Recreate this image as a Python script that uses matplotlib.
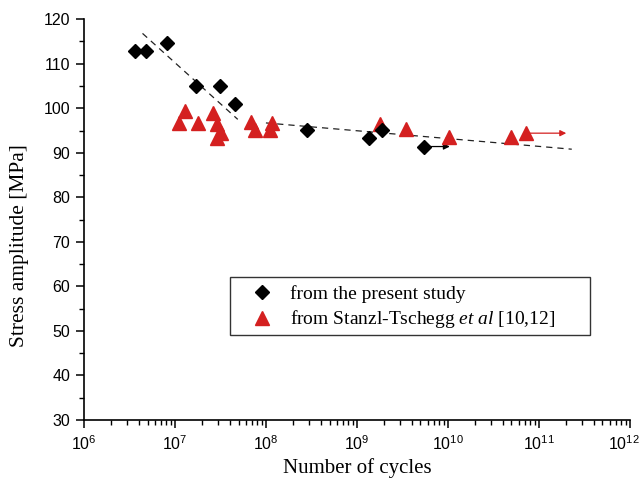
import matplotlib
matplotlib.use("Agg")
import matplotlib.pyplot as plt
import matplotlib.transforms as mtransforms
import numpy as np
from matplotlib.ticker import LogLocator, MultipleLocator, NullFormatter, FixedLocator
from matplotlib.patches import Rectangle

plt.rcParams["font.family"] = ["Liberation Sans"]
plt.rcParams["mathtext.fontset"] = "custom"
plt.rcParams["mathtext.it"] = "Liberation Serif:italic"
plt.rcParams["mathtext.rm"] = "Liberation Sans"

# Present study (black diamonds)
present_N = [3.6e6, 4.8e6, 8.1e6, 1.7e7, 3.1e7, 4.6e7, 2.8e8, 1.35e9, 1.9e9, 5.4e9]
present_S = [112.8, 112.8, 114.7, 105.0, 105.0, 101.0, 95.2, 93.3, 95.2, 91.4]
present_runout_N = [5.4e9, 1.05e10]
present_runout_S = [91.4, 91.4]

# Stanzl-Tschegg et al (red triangles)
st_N = [1.1e7, 1.3e7, 1.8e7, 2.6e7, 2.9e7, 3.2e7, 2.9e7, 6.9e7, 7.6e7, 1.17e8, 1.1e8,
        1.8e9, 3.5e9, 1.02e10, 5.0e10, 7.2e10]
st_S = [96.7, 99.3, 96.7, 99.0, 96.4, 94.4, 93.3, 96.9, 95.1, 96.7, 95.1,
        96.4, 95.3, 93.5, 93.5, 94.4]
st_runout_N = [7.2e10, 2.0e11]
st_runout_S = [94.4, 94.4]

# Fitted dashed lines
fit1_N = [4.4e6, 4.9e7]
fit1_S = [116.8, 97.5]
fit2_N = [1.0e8, 2.3e11]
fit2_S = [96.7, 90.8]

x_ticks = [1e6, 1e7, 1e8, 1e9, 1e10, 1e11, 1e12]

red = "#d42020"

fig = plt.figure(figsize=(6.44, 4.79), dpi=100)
ax = fig.add_axes([0.1304, 0.1232, 0.8476, 0.8368])

ax.plot(fit1_N, fit1_S, ls=(0, (5, 4)), color="#222222", lw=0.9, zorder=1)
ax.plot(fit2_N, fit2_S, ls=(0, (5, 4)), color="#222222", lw=0.9, zorder=1)

ax.annotate("", xy=(present_runout_N[1], present_runout_S[1]),
            xytext=(present_runout_N[0], present_runout_S[0]),
            arrowprops=dict(arrowstyle="-|>", color="black", lw=0.9,
                            mutation_scale=9, shrinkA=0, shrinkB=0), zorder=2)
ax.annotate("", xy=(st_runout_N[1], st_runout_S[1]),
            xytext=(st_runout_N[0], st_runout_S[0]),
            arrowprops=dict(arrowstyle="-|>", color=red, lw=0.9,
                            mutation_scale=9, shrinkA=0, shrinkB=0), zorder=2)

ax.plot(st_N, st_S, ls="none", marker="^", ms=9.5, color=red, mec=red,
        label="from Stanzl-Tschegg $\\mathit{et\\ al}$ [10,12]", zorder=3)
ax.plot(present_N, present_S, ls="none", marker="D", ms=7, color="black",
        label="from the present study", zorder=4)

ax.set_xscale("log")
ax.set_xlim(1e6, 1e12)
ax.set_ylim(30, 120)
ax.xaxis.set_major_locator(FixedLocator(x_ticks))
ax.xaxis.set_minor_locator(LogLocator(base=10, subs=np.arange(2, 10), numticks=100))
ax.xaxis.set_minor_formatter(NullFormatter())
ax.yaxis.set_major_locator(MultipleLocator(10))
ax.yaxis.set_minor_locator(MultipleLocator(5))

for s in ["top", "right"]:
    ax.spines[s].set_visible(False)
for s in ["left", "bottom"]:
    ax.spines[s].set_linewidth(1.2)
ax.tick_params(which="major", direction="out", length=6, width=1.1, labelsize=11.5,
               pad=4)
ax.tick_params(which="minor", direction="out", length=3.5, width=1.0)

ax.set_xlabel("Number of cycles", fontfamily="Liberation Serif", fontsize=15)
ax.xaxis.set_label_coords(0.5, -0.095)
ax.set_ylabel("Stress amplitude [MPa]", fontfamily="Liberation Serif", fontsize=15.5)
ax.yaxis.set_label_coords(-0.101, 0.434)

# Legend frame
ax.add_patch(Rectangle((0.2674, 0.212), 0.6593, 0.1446, transform=ax.transAxes,
                       fill=True, facecolor="white", edgecolor="#333333", lw=1.0,
                       zorder=5))

handles, labels = ax.get_legend_handles_labels()
leg = ax.legend(handles[::-1], labels[::-1], loc="center left",
                bbox_to_anchor=(0.3077, 0.2805), frameon=False,
                prop={"family": "Liberation Serif", "size": 14},
                handlelength=1.0, handletextpad=0.96, borderpad=0,
                labelspacing=0.3, borderaxespad=0)
leg.set_zorder(6)

# nudge the last x tick label slightly left so it fits inside the figure
fig.canvas.draw()
last_tick = ax.xaxis.get_major_ticks()[-1]
offset = mtransforms.ScaledTranslation(-4 / 72, 0, fig.dpi_scale_trans)
last_tick.label1.set_transform(last_tick.label1.get_transform() + offset)

fig.savefig("out.png", dpi=100)
